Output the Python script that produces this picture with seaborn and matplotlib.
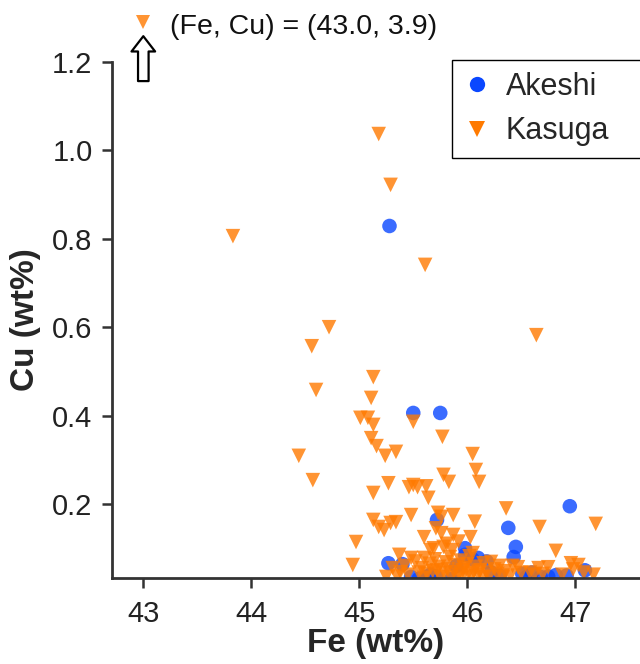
import matplotlib
matplotlib.use("Agg")
import matplotlib.pyplot as plt
from matplotlib.lines import Line2D
import matplotlib.transforms as mtransforms
import pandas as pd
import seaborn as sns

# Akeshi analyses (Fe, Cu in wt%)
akeshi_fe = [45.28, 45.50, 45.75, 46.95, 46.38, 46.45, 46.43, 45.72, 45.27, 45.40,
             45.98, 45.98, 46.10, 47.09, 46.82, 46.68, 46.60, 46.51, 45.62, 45.66,
             45.71, 45.90, 46.22, 46.18, 46.30, 45.48, 45.55, 46.05, 46.55, 45.85,
             46.92, 46.75]
akeshi_cu = [0.829, 0.406, 0.406, 0.195, 0.146, 0.103, 0.080, 0.164, 0.066, 0.064,
             0.100, 0.085, 0.078, 0.050, 0.039, 0.035, 0.045, 0.042, 0.035, 0.040,
             0.036, 0.060, 0.045, 0.070, 0.038, 0.035, 0.030, 0.075, 0.035, 0.030,
             0.038, 0.036]

# Kasuga analyses (Fe, Cu in wt%), first one is off scale
kasuga_fe = [43.0,
             43.83, 45.18, 45.29, 45.61, 46.64, 44.72, 44.56, 44.60, 44.44, 44.57,
             45.13, 45.11, 45.08, 45.01, 45.13, 45.11, 45.16, 45.24, 45.50, 45.77,
             46.05, 45.34, 46.08, 46.11, 46.36, 46.67, 47.19, 46.82, 46.96, 47.03,
             46.75, 46.66, 47.17, 45.13, 45.27, 45.46, 45.50, 45.54, 45.62, 45.64,
             45.78, 45.83, 45.13, 45.18, 45.23, 45.29, 45.34, 45.48, 45.73, 45.76,
             45.87, 44.97, 44.94, 45.60, 45.76, 45.87, 46.03, 45.69, 45.78, 45.37,
             45.48, 45.31, 45.38, 45.60, 45.66, 45.86, 46.05, 46.22, 46.47, 46.30,
             45.42, 45.52, 45.58, 45.65, 45.70, 45.74, 45.80, 45.84, 45.90, 45.94,
             45.97, 46.00, 46.02, 46.08, 46.12, 46.15, 46.25, 46.35, 46.42, 46.58,
             45.45, 45.55, 45.63, 45.68, 45.72, 45.79, 45.82, 45.88, 45.92, 45.96,
             46.01, 46.06, 46.10, 46.18, 46.28, 46.40, 46.50, 46.62, 46.70, 46.88,
             45.25, 45.35, 45.60, 45.75, 45.85, 45.95, 46.04, 46.14, 46.20, 46.33,
             47.08, 46.98, 45.92, 45.81, 45.71, 46.07]
kasuga_cu = [3.9,
             0.806, 1.037, 0.922, 0.741, 0.582, 0.600, 0.557, 0.458, 0.309, 0.254,
             0.487, 0.440, 0.395, 0.395, 0.379, 0.349, 0.331, 0.309, 0.386, 0.352,
             0.313, 0.318, 0.277, 0.250, 0.190, 0.148, 0.155, 0.094, 0.066, 0.062,
             0.057, 0.055, 0.040, 0.225, 0.247, 0.238, 0.243, 0.238, 0.240, 0.214,
             0.266, 0.250, 0.164, 0.148, 0.141, 0.157, 0.159, 0.175, 0.180, 0.171,
             0.175, 0.114, 0.062, 0.125, 0.134, 0.130, 0.125, 0.100, 0.103, 0.085,
             0.078, 0.055, 0.046, 0.078, 0.096, 0.096, 0.089, 0.069, 0.057, 0.060,
             0.060, 0.070, 0.055, 0.065, 0.075, 0.058, 0.068, 0.080, 0.062, 0.072,
             0.055, 0.064, 0.082, 0.058, 0.050, 0.066, 0.052, 0.048, 0.060, 0.045,
             0.040, 0.045, 0.042, 0.048, 0.050, 0.044, 0.052, 0.046, 0.040, 0.050,
             0.043, 0.047, 0.040, 0.045, 0.042, 0.038, 0.044, 0.040, 0.042, 0.040,
             0.035, 0.036, 0.033, 0.035, 0.034, 0.033, 0.036, 0.034, 0.035, 0.034,
             0.045, 0.052, 0.115, 0.110, 0.145, 0.160]

sites = ["Akeshi", "Kasuga"]
colors = {"Akeshi": "#0a47ff", "Kasuga": "#ff7a00"}
markers = {"Akeshi": "o", "Kasuga": "v"}

df = pd.DataFrame({
    "Fe": akeshi_fe + kasuga_fe,
    "Cu": akeshi_cu + kasuga_cu,
    "site": ["Akeshi"] * len(akeshi_fe) + ["Kasuga"] * len(kasuga_fe),
})

sns.set_style("ticks")
plt.rcParams["font.family"] = ["Liberation Sans", "DejaVu Sans"]

fig = plt.figure(figsize=(6.4, 6.64), dpi=100)
ax = fig.add_axes([112 / 640, 86 / 664, 528 / 640, 516 / 664])

sns.scatterplot(data=df, x="Fe", y="Cu", hue="site", style="site",
                palette=colors, markers=markers, s=110, alpha=0.8,
                linewidth=0, ax=ax, legend=False)

ax.set_xlim(42.71, 47.60)
ax.set_ylim(0.0326, 1.2)
ax.set_xticks([43, 44, 45, 46, 47])
ax.set_yticks([0.2, 0.4, 0.6, 0.8, 1.0, 1.2])
ax.set_xlabel("Fe (wt%)", fontsize=24, fontweight="bold", labelpad=0)
ax.set_ylabel("Cu (wt%)", fontsize=24, fontweight="bold", labelpad=8)
ax.tick_params(labelsize=21, length=7, width=1.8, color="#333333", labelcolor="#222222")
ax.tick_params(axis="x", pad=9)
ax.tick_params(axis="y", pad=7)
for side in ["left", "bottom"]:
    ax.spines[side].set_linewidth(2)
    ax.spines[side].set_color("#333333")
sns.despine(ax=ax)

# off-scale point marker above the axes
off = df[df["Cu"] > ax.get_ylim()[1]].iloc[0]
trans = mtransforms.blended_transform_factory(ax.transData, ax.transAxes)
ax.plot(off["Fe"], 1.078, marker="v", color=colors["Kasuga"], alpha=0.8,
        markersize=10, markeredgewidth=0, transform=trans, clip_on=False)
ax.annotate("", xy=(off["Fe"], 1.05), xytext=(off["Fe"], 0.963),
            xycoords=trans, textcoords=trans, annotation_clip=False,
            arrowprops=dict(arrowstyle="simple,head_length=0.55,head_width=0.85,tail_width=0.38",
                            mutation_scale=20, fc="white", ec="black", lw=1.6,
                            shrinkA=0, shrinkB=0))
ax.text(off["Fe"] + 0.245, 1.068, f"(Fe, Cu) = ({off['Fe']:.1f}, {off['Cu']:.1f})",
        transform=trans, fontsize=20.5, va="center", ha="left", color="#111111")

handles = [Line2D([], [], linestyle="none", marker=markers[s], color=colors[s],
                  markersize=11, markeredgewidth=0) for s in sites]
leg = ax.legend(handles, sites, loc="upper left", bbox_to_anchor=(0.644, 0.0, 0.45, 1.004),
                mode="expand", fontsize=22, frameon=True, fancybox=False, edgecolor="black",
                framealpha=1, borderaxespad=0, handlelength=0.85, handletextpad=0.5,
                labelspacing=0.46, borderpad=0.4)
leg.get_frame().set_linewidth(1.0)

fig.savefig("out.png", dpi=100)
